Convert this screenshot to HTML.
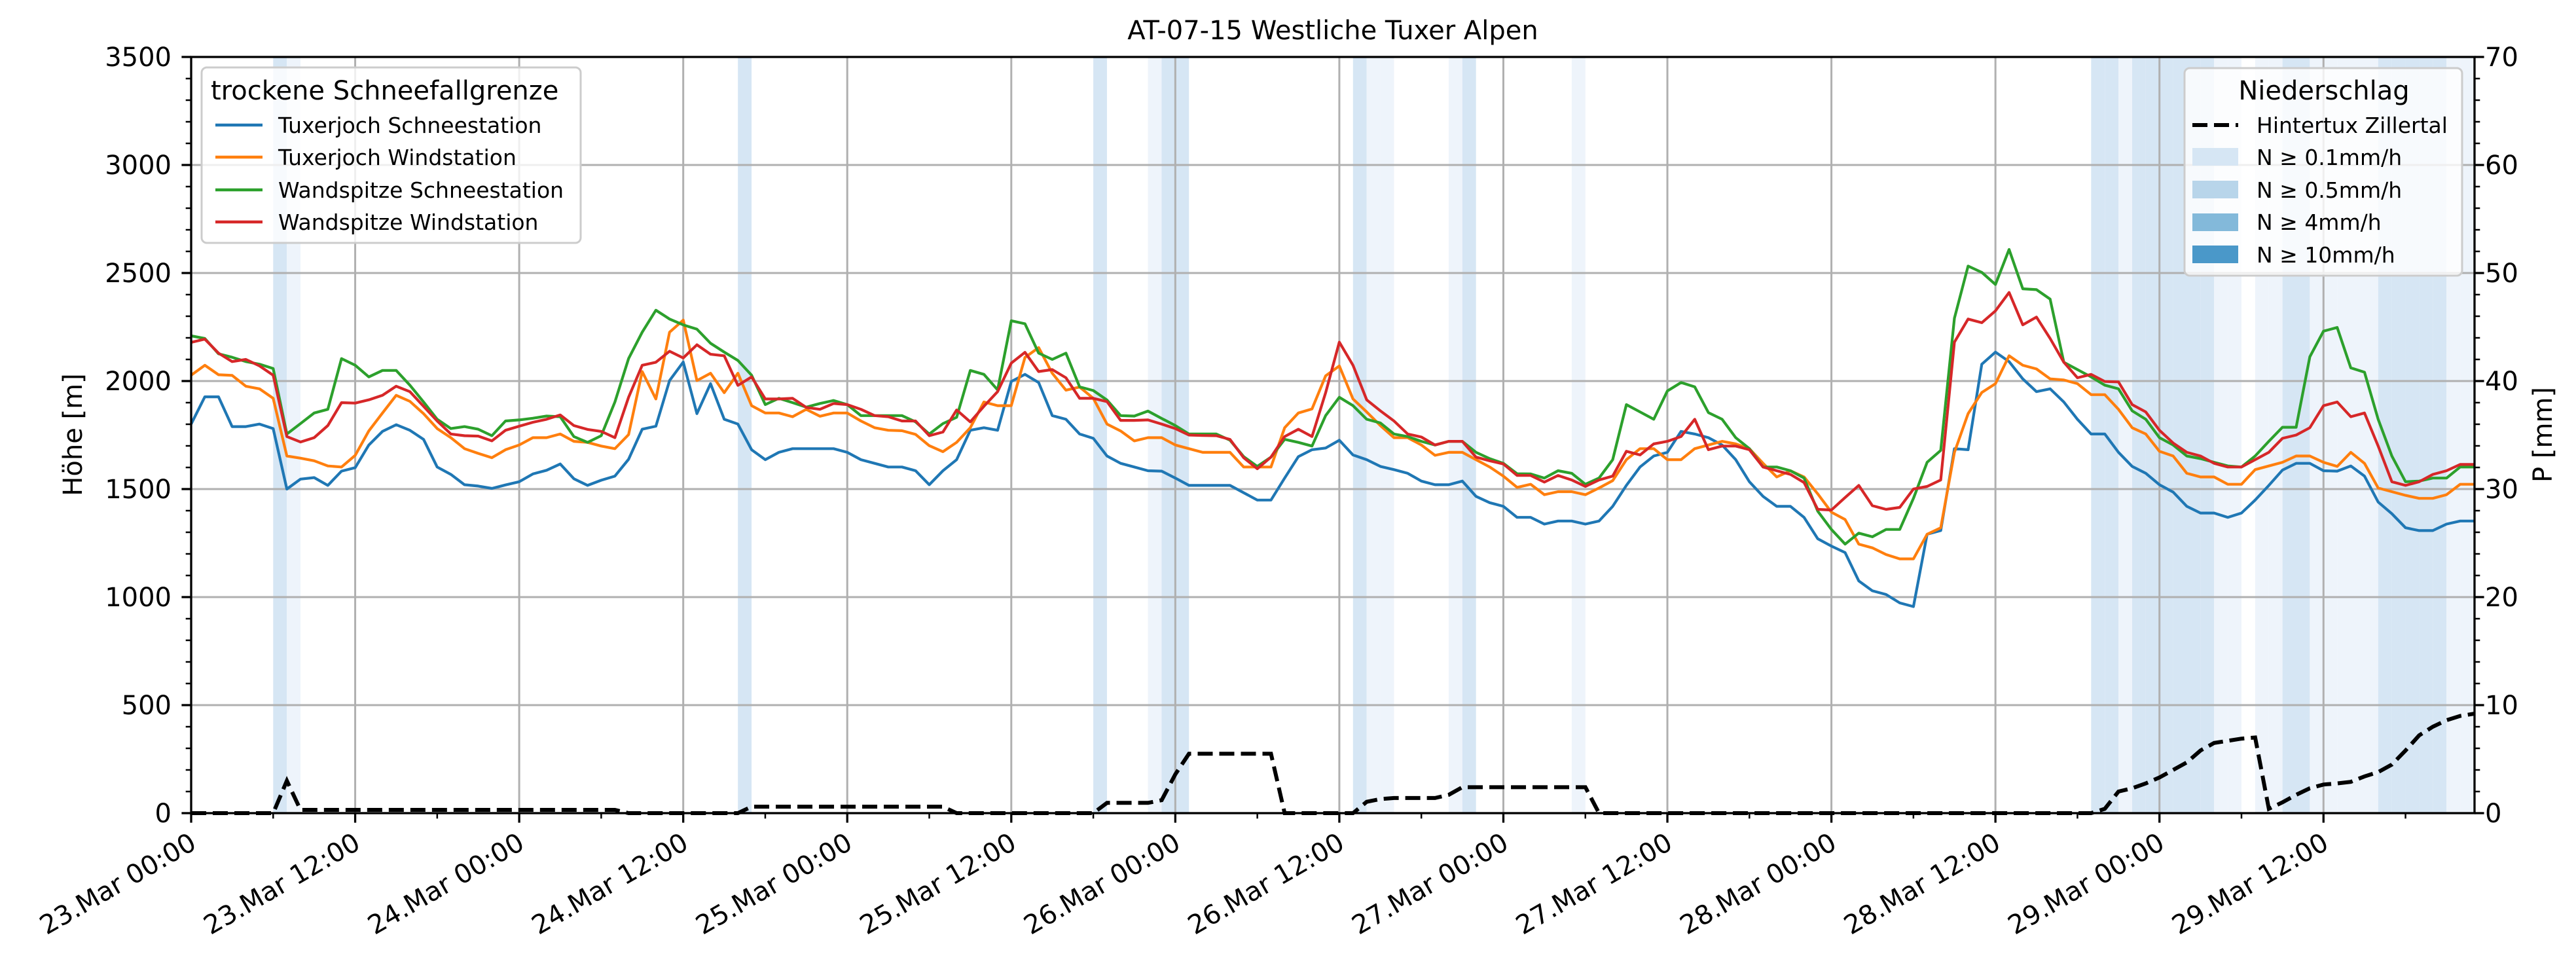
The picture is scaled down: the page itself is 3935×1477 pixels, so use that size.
<!DOCTYPE html>
<html><head><meta charset="utf-8"><style>
html,body{margin:0;padding:0;background:#fff;}
svg{display:block;font-family:"DejaVu Sans","Liberation Sans",sans-serif;}
</style></head><body>
<svg id="chart" width="3935" height="1477" viewBox="0 0 3935 1477" xmlns="http://www.w3.org/2000/svg">
<rect x="0" y="0" width="3935" height="1477" fill="#fff"/>
<g id="bands"></g>
<g id="grid"></g>
<g id="series"></g>
<g id="axes"></g>
<text x="2036" y="60" text-anchor="middle" font-size="40">AT-07-15 Westliche Tuxer Alpen</text>
<text transform="translate(125,664) rotate(-90)" text-anchor="middle" font-size="40">Höhe [m]</text>
<text transform="translate(3898,664) rotate(-90)" text-anchor="middle" font-size="40">P [mm]</text>
<g>
<rect x="308" y="103" width="579" height="268" rx="8" fill="#fff" fill-opacity="0.8" stroke="#cccccc" stroke-width="3"/>
<text x="322" y="152" font-size="40">trockene Schneefallgrenze</text>
<g><line x1="329" y1="191" x2="401" y2="191" stroke="#1f77b4" stroke-width="4.5"/><text x="425" y="203" font-size="33">Tuxerjoch Schneestation</text></g>
<g><line x1="329" y1="240" x2="401" y2="240" stroke="#ff7f0e" stroke-width="4.5"/><text x="425" y="252" font-size="33">Tuxerjoch Windstation</text></g>
<g><line x1="329" y1="290" x2="401" y2="290" stroke="#2ca02c" stroke-width="4.5"/><text x="425" y="302" font-size="33">Wandspitze Schneestation</text></g>
<g><line x1="329" y1="339" x2="401" y2="339" stroke="#d62728" stroke-width="4.5"/><text x="425" y="351" font-size="33">Wandspitze Windstation</text></g>
</g>
<g>
<rect x="3337" y="104" width="424" height="317" rx="8" fill="#fff" fill-opacity="0.8" stroke="#cccccc" stroke-width="3"/>
<text x="3550" y="152" text-anchor="middle" font-size="40">Niederschlag</text>
<g><line x1="3349" y1="191" x2="3419" y2="191" stroke="#000" stroke-width="6" stroke-dasharray="23,10"/><text x="3447" y="203" font-size="33">Hintertux Zillertal</text></g>
<g><rect x="3349" y="226" width="70" height="27" fill="#d6e6f4"/><text x="3447" y="252" font-size="33">N ≥ 0.1mm/h</text></g>
<g><rect x="3349" y="276" width="70" height="27" fill="#b8d5ea"/><text x="3447" y="302" font-size="33">N ≥ 0.5mm/h</text></g>
<g><rect x="3349" y="326" width="70" height="27" fill="#83b9da"/><text x="3447" y="351" font-size="33">N ≥ 4mm/h</text></g>
<g><rect x="3349" y="375" width="70" height="27" fill="#4a98c9"/><text x="3447" y="401" font-size="33">N ≥ 10mm/h</text></g>
</g>
</svg>
<script>
const blue=[1801,1927,1927,1789,1789,1801,1780,1500,1546,1553,1517,1583,1599,1704,1767,1798,1772,1730,1602,1568,1520,1514,1503,1519,1534,1570,1587,1616,1548,1517,1541,1560,1638,1777,1791,2002,2088,1849,1988,1823,1801,1682,1636,
1670,1687,1687,1687,1687,1670,1636,1619,1602,1602,1585,1520,1585,1636,1772,1784,1772,1998,2031,1993,1840,1823,1755,1735,1653,1619,1602,1585,1583,1551,1517,1517,1517,1517,1483,1449,1449,1551,1650,1682,1690,
1726,1658,1636,1605,1590,1573,1537,1520,1520,1537,1466,1437,1420,1369,1369,1338,1352,1352,1338,1352,1420,1517,1602,1653,1670,1767,1755,1738,1704,1636,1534,1466,1420,1420,1369,1270,1236,1206,1075,1029,1012,973,
956,1291,1308,1687,1682,2078,2134,2090,2010,1951,1964,1903,1823,1755,1755,1670,1605,1573,1520,1486,1420,1389,1389,1369,1389,1449,1517,1588,1619,1619,1585,1583,1607,1560,1440,1386,1321,1308,1308,1338,1352,1352];
const orange=[2027,2073,2029,2026,1976,1964,1920,1653,1643,1631,1607,1602,1656,1769,1852,1934,1906,1849,1780,1738,1687,1665,1645,1682,1704,1738,1738,1755,1721,1716,1699,1687,1752,2044,1917,2226,2282,2002,2036,1946,2036,1886,1852,
1852,1835,1869,1837,1852,1852,1815,1784,1772,1770,1753,1701,1673,1716,1784,1903,1886,1886,2109,2155,2036,1958,1972,1920,1801,1769,1723,1738,1738,1704,1687,1670,1670,1670,1602,1602,1602,1784,1852,1871,2024,
2070,1917,1857,1794,1738,1738,1704,1656,1670,1670,1636,1602,1560,1508,1522,1474,1488,1488,1474,1505,1539,1636,1687,1687,1636,1636,1687,1704,1721,1709,1687,1619,1556,1585,1556,1478,1393,1359,1245,1228,1197,1177,
1177,1291,1321,1670,1849,1947,1988,2117,2073,2056,2010,2005,1988,1937,1937,1869,1784,1755,1675,1653,1573,1556,1556,1522,1522,1590,1607,1624,1653,1653,1624,1605,1670,1619,1505,1488,1471,1457,1457,1474,1522,1522];
const green=[2209,2197,2126,2110,2090,2078,2058,1755,1803,1852,1869,2104,2073,2019,2049,2049,1981,1903,1823,1780,1789,1777,1747,1815,1820,1828,1838,1835,1743,1716,1747,1903,2104,2226,2328,2287,2260,2240,2175,2134,2095,2027,1891,
1920,1900,1879,1896,1910,1891,1840,1840,1840,1840,1811,1755,1803,1832,2049,2031,1959,2279,2265,2129,2100,2129,1973,1956,1912,1840,1838,1861,1827,1794,1755,1755,1755,1726,1650,1605,1648,1730,1716,1699,1840,
1925,1886,1823,1806,1755,1743,1721,1704,1721,1721,1670,1641,1619,1571,1570,1551,1585,1573,1522,1551,1636,1891,1857,1823,1954,1993,1973,1854,1823,1738,1687,1602,1602,1585,1551,1398,1313,1245,1296,1279,1313,1313,
1457,1624,1679,2291,2532,2503,2447,2609,2427,2423,2379,2087,2053,2019,1981,1964,1862,1823,1738,1704,1653,1641,1624,1607,1602,1653,1721,1786,1786,2112,2231,2248,2061,2041,1823,1653,1534,1537,1551,1551,1602,1602];
const red=[2179,2194,2129,2090,2100,2070,2027,1743,1718,1738,1794,1900,1898,1913,1934,1976,1951,1883,1815,1755,1747,1745,1723,1772,1791,1809,1823,1843,1794,1776,1767,1738,1925,2073,2087,2138,2107,2168,2124,2117,1980,2019,1917,
1917,1920,1878,1869,1896,1891,1869,1840,1835,1815,1815,1747,1764,1866,1811,1883,1951,2083,2133,2044,2053,2015,1920,1920,1905,1818,1818,1820,1801,1780,1750,1748,1747,1730,1645,1594,1648,1743,1777,1743,1946,
2180,2073,1913,1862,1815,1755,1741,1704,1721,1721,1648,1631,1616,1563,1563,1532,1563,1542,1512,1542,1560,1675,1658,1709,1721,1743,1823,1682,1699,1699,1682,1602,1585,1568,1530,1406,1403,1461,1517,1423,1406,1415,
1500,1512,1542,2180,2287,2270,2325,2410,2260,2296,2197,2087,2015,2031,1998,1996,1891,1857,1772,1713,1670,1653,1619,1602,1602,1636,1670,1735,1750,1784,1886,1903,1835,1852,1699,1534,1517,1534,1568,1585,1614,1614];
const precip=[0,0,0,0,0,0,0,3.0,
0.3,0.3,0.3,0.3,0.3,0.3,0.3,0.3,0.3,0.3,0.3,0.3,0.3,0.3,0.3,0.3,0.3,0.3,0.3,0.3,0.3,0.3,0.3,0.3,
0,0,0,0,0,0,0,0,0,
0.6,0.6,0.6,0.6,0.6,0.6,0.6,0.6,0.6,0.6,0.6,0.6,0.6,0.6,0.6,
0,0,0,0,0,0,0,0,0,0,0,
0.95,0.95,0.95,0.95,1.2,3.6,5.5,5.5,5.5,5.5,5.5,5.5,5.5,
0,0,0,0,0,0,
1.05,1.3,1.4,1.4,1.4,1.4,1.7,2.4,2.4,2.4,2.4,2.4,2.4,2.4,2.4,2.4,2.4,
0,0,0,0,0,0,0,0,0,0,0,0,0,0,0,0,0,0,0,0,0,0,0,0,0,0,0,0,0,0,0,0,0,0,0,0,0,
0.4,2.0,2.3,2.75,3.3,4.0,4.7,5.8,6.5,6.7,6.9,7.0,0.4,1.0,1.7,2.3,2.65,2.75,2.9,3.4,3.8,4.5,5.8,7.2,8.0,8.6,9.0,9.2];
const bandHours=[6,7,40,66,70,71,72,85,86,87,92,93,101,139,140,141,142,143,144,145,146,147,148,149,151,152,153,154,155,156,157,158,159,160,161,162,163,164,165,166];
const bandLevels=[2,1,2,2,1,2,2,2,1,1,1,2,1,2,2,1,2,2,2,2,2,2,1,1,1,1,2,2,1,1,1,1,1,2,2,2,2,2,1,1];
const xTickLabels=["23.Mar 00:00","23.Mar 12:00","24.Mar 00:00","24.Mar 12:00","25.Mar 00:00","25.Mar 12:00","26.Mar 00:00","26.Mar 12:00","27.Mar 00:00","27.Mar 12:00","28.Mar 00:00","28.Mar 12:00","29.Mar 00:00","29.Mar 12:00"];
const yLeftTicks=[0,500,1000,1500,2000,2500,3000,3500];
const yRightTicks=[0,10,20,30,40,50,60,70];

const L=292,R=3780,T=87,B=1242,HMAX=167.05;
const X=h=>L+h*(R-L)/HMAX;
const YL=v=>B-v*(B-T)/3500;
const YR=p=>B-p*(B-T)/70;
const NS="http://www.w3.org/2000/svg";
function mk(tag,attrs,parent){const e=document.createElementNS(NS,tag);for(const k in attrs)e.setAttribute(k,attrs[k]);parent.appendChild(e);return e;}
const gB=document.getElementById('bands'),gG=document.getElementById('grid'),gS=document.getElementById('series'),gA=document.getElementById('axes');
const bandColors={1:"#eef4fb",2:"#d6e6f4"};
bandHours.forEach((h,i)=>{
  const r=mk('rect',{x:X(h),y:T,width:Math.min(X(h+1),R)-X(h),height:B-T,fill:bandColors[bandLevels[i]]},gB);
  
  
});
// grid
xTickLabels.forEach((lab,i)=>{
  const x=X(i*12);
  if(i>0){const g=mk('line',{x1:x,y1:T,x2:x,y2:B,stroke:"#b0b0b0","stroke-width":3},gG);
  
  }
});
yLeftTicks.forEach(v=>{
  if(v>0&&v<3500){const g=mk('line',{x1:L,y1:YL(v),x2:R,y2:YL(v),stroke:"#b0b0b0","stroke-width":3},gG);
  
  }
});
// series
const ser=[[blue,"#1f77b4","line-tuxerjoch-schnee"],[orange,"#ff7f0e","line-tuxerjoch-wind"],[green,"#2ca02c","line-wandspitze-schnee"],[red,"#d62728","line-wandspitze-wind"]];
ser.forEach(s=>{
  const d=s[0].map((v,i)=>(i?'L':'M')+X(i).toFixed(1)+','+YL(v).toFixed(1)).join('');
  const p=mk('path',{d:d,fill:"none",stroke:s[1],"stroke-width":4.2,"stroke-linejoin":"round"},gS);
  
  
});
const pd=precip.map((v,i)=>(i?'L':'M')+X(i).toFixed(1)+','+YR(v).toFixed(1)).join('');
const pp=mk('path',{d:pd,fill:"none",stroke:"#000","stroke-width":6,"stroke-dasharray":"23,10"},gS);


// spines
const fr=mk('rect',{x:L,y:T,width:R-L,height:B-T,fill:"none",stroke:"#000","stroke-width":3.3},gA);


// x ticks
for(let h=0;h<=HMAX;h+=6){
  const major=h%12===0;
  mk('line',{x1:X(h),y1:B,x2:X(h),y2:B+(major?14.6:8.3),stroke:"#000","stroke-width":major?3.3:2.5},gA);
}
xTickLabels.forEach((lab,i)=>{
  const x=X(i*12)-4,y=1270;
  const t=mk('text',{x:x,y:y,"text-anchor":"end","dominant-baseline":"hanging","font-size":40,transform:`rotate(-30 ${x} ${y})`},gA);
  t.textContent=lab;
  
  
});
// left y ticks
for(let v=0;v<=3500;v+=100){
  const major=v%500===0;
  mk('line',{x1:L,y1:YL(v),x2:L-(major?14.6:8.3),y2:YL(v),stroke:"#000","stroke-width":major?3.3:2.5},gA);
}
yLeftTicks.forEach(v=>{
  const t=mk('text',{x:262,y:YL(v)+14,"text-anchor":"end","font-size":40},gA);
  t.textContent=String(v);
  
  
});
// right y ticks
for(let p=0;p<=70;p+=2){
  const major=p%10===0;
  mk('line',{x1:R,y1:YR(p),x2:R+(major?14.6:8.3),y2:YR(p),stroke:"#000","stroke-width":major?3.3:2.5},gA);
}
yRightTicks.forEach(p=>{
  const t=mk('text',{x:3796,y:YR(p)+14,"text-anchor":"start","font-size":40},gA);
  t.textContent=String(p);
  
  
});
</script>
</body></html>
